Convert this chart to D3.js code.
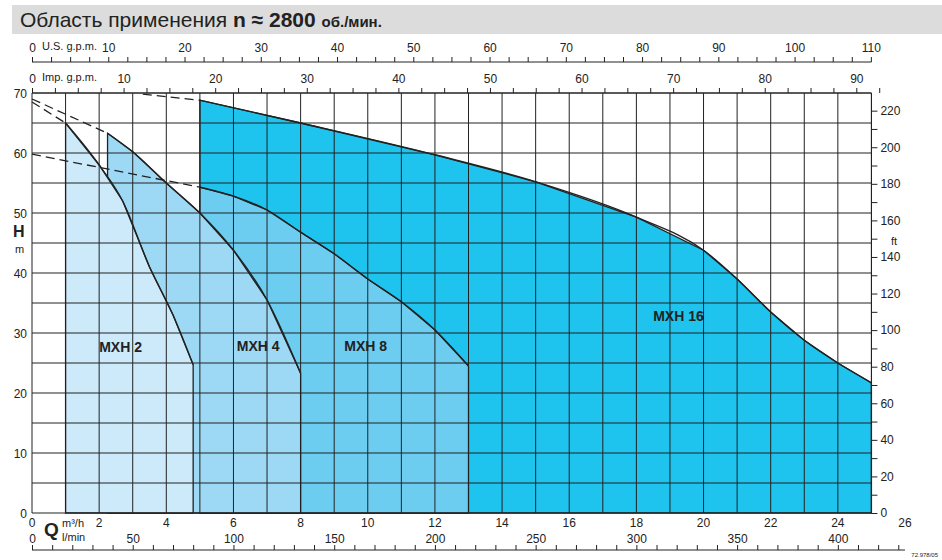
<!DOCTYPE html>
<html><head><meta charset="utf-8">
<script src="https://cdn.jsdelivr.net/npm/d3@7"></script>
<style>body{margin:0;background:#fff}text{font-family:Arial,"Liberation Sans",sans-serif;fill:#222}</style>
</head><body><svg id="c" width="942" height="560"></svg>
<script>
// Q in m3/h, H in m
var mxh2 = [[1,65],[2,58],[2.7,52],[3.5,41],[4.2,33],[4.8,24.7]];
var mxh4 = [[2.25,63.3],[3,60.2],[4,55],[5,50],[6,43.8],[7,35.5],[8,23.3]];
var mxh8 = [[5,54.3],[6,52.8],[7,50.5],[8,46.8],[9,43.2],[10,39],[11,35.2],[12,30.5],[13,24.5]];
var mxh16 = [[5,68.8],[8,65],[12,59.7],[15,55.2],[18,49.3],[20,43.8],[21,39],[22,33.5],[23,28.8],[24,25],[25,21.7]];
var dash2 = [[0,68.5],[1,65]];
var dash4 = [[0,69],[2.25,63.3]];
var dash8 = [[0,59.8],[5,54.3]];
var dash16 = [[3.3,69.8],[5,68.8]];
var series = [
  {name:"MXH 16", pts:mxh16, dash:dash16, color:"#1ec3ee", lx:18.5, ly:32},
  {name:"MXH 8", pts:mxh8, dash:dash8, color:"#6ccdf1", lx:9.3, ly:27},
  {name:"MXH 4", pts:mxh4, dash:dash4, color:"#9dd9f5", lx:6.1, ly:27},
  {name:"MXH 2", pts:mxh2, dash:dash2, color:"#cdeafa", lx:2, ly:26.8}
];
var hTicks = d3.range(0,71,10);
var ftTicks = d3.range(0,221,20);

var svg = d3.select("#c");
var x = d3.scaleLinear().domain([0,26]).range([32,905]);
var y = d3.scaleLinear().domain([0,70]).range([513,93]);
var yft = d3.scaleLinear().domain([0,70/0.3048]).range([513,93]);
var xus = d3.scaleLinear().domain([0,26*4.403]).range([32,905]);
var ximp = d3.scaleLinear().domain([0,26*3.666]).range([32,905]);
var xl = d3.scaleLinear().domain([0,26*1000/60]).range([32,905]);
var R = x(25);

// title
svg.append("rect").attr("x",12).attr("y",5).attr("width",930).attr("height",29).attr("fill","#dcdcdc");
var t = svg.append("text").attr("x",20).attr("y",27).attr("font-size",21);
t.append("tspan").text("Область применения  ");
t.append("tspan").attr("font-weight","bold").text("n ≈ 2800 ");
t.append("tspan").attr("font-weight","bold").attr("font-size",15).text("об./мин.");

// fills
series.forEach(function(s){
  var p = s.pts, q0 = p[0][0], q1 = p[p.length-1][0];
  var poly = [[q0,0]].concat(p).concat([[q1,0]]);
  svg.append("path").attr("d", d3.line().x(d=>x(d[0])).y(d=>y(d[1]))(poly) + "Z")
    .attr("fill", s.color).attr("stroke","#222").attr("stroke-width",1.3);
});
// curves smooth
series.forEach(function(s){
  svg.append("path").attr("d", d3.line().curve(d3.curveMonotoneX).x(d=>x(d[0])).y(d=>y(d[1]))(s.pts))
    .attr("fill","none").attr("stroke","#222").attr("stroke-width",1.4);
  svg.append("path").attr("d", d3.line().x(d=>x(d[0])).y(d=>y(d[1]))(s.dash))
    .attr("fill","none").attr("stroke","#222").attr("stroke-width",1.3).attr("stroke-dasharray","9,5");
});

// grid
var g = svg.append("g").attr("stroke","#222").attr("stroke-width",1);
d3.range(0,26).forEach(function(q){ g.append("line").attr("x1",x(q)).attr("x2",x(q)).attr("y1",y(0)).attr("y2",y(70)); });
d3.range(0,71,5).forEach(function(h){ g.append("line").attr("x1",x(0)).attr("x2",R).attr("y1",y(h)).attr("y2",y(h)); });
g.append("line").attr("x1",R).attr("x2",R).attr("y1",y(0)).attr("y2",y(70));

// labels
series.forEach(function(s){
  svg.append("text").attr("x",x(s.lx)).attr("y",y(s.ly)).attr("font-size",14).attr("font-weight","bold").text(s.name);
});

// left axis
hTicks.forEach(function(h){
  svg.append("text").attr("x",27).attr("y",y(h)+5).attr("text-anchor","end").attr("font-size",12).text(h);
});
svg.append("text").attr("x",13).attr("y",237).attr("font-size",16).attr("font-weight","bold").text("H");
svg.append("text").attr("x",15).attr("y",253).attr("font-size",11).text("m");

// right axis (ft)
svg.append("g").attr("transform","translate("+R+",0)")
  .call(d3.axisRight(yft).tickValues(d3.range(0,221,10)).tickSize(6).tickFormat(d=>ftTicks.indexOf(d)>=0?d:""))
  .call(a=>{a.select(".domain").remove();a.selectAll("text").attr("font-size",12).attr("fill","#222").attr("font-family","Arial");a.selectAll("line").attr("stroke","#222");});
svg.append("text").attr("x",891).attr("y",245).attr("font-size",11).text("ft");

function topAxis(scale, ypos, maxv, label, step){
  var ga = svg.append("g").attr("transform","translate(0,"+ypos+")")
    .call(d3.axisTop(scale).tickValues(d3.range(0,maxv+0.1,step)).tickSize(5).tickFormat(d=>d%10==0?d:""));
  ga.select(".domain").attr("d","M32,0H"+R).attr("stroke","#222");
  ga.selectAll("line").attr("stroke","#222");
  ga.selectAll("text").attr("font-size",12).attr("fill","#222").attr("font-family","Arial").attr("dy","-2");
  svg.append("text").attr("x",42).attr("y",ypos-12).attr("font-size",11).text(label);
  return ga;
}
topAxis(xus, 62, 110, "U.S. g.p.m.", 2.5);
topAxis(ximp, 93, 92.5, "Imp. g.p.m.", 2.5);

// bottom axes
d3.range(0,27,2).forEach(function(q){
  svg.append("text").attr("x",x(q)).attr("y",527).attr("text-anchor","middle").attr("font-size",12).text(q);
});
var gb = svg.append("g").attr("transform","translate(0,550)")
  .call(d3.axisTop(xl).tickValues(d3.range(0,431,10)).tickSize(5).tickFormat(d=>d%50==0?d:""));
gb.select(".domain").attr("d","M32,0H"+x(26)).attr("stroke","#222");
gb.selectAll("line").attr("stroke","#222");
gb.selectAll("text").attr("font-size",12).attr("fill","#222").attr("font-family","Arial").attr("y",-7);
svg.append("text").attr("x",44).attr("y",536).attr("font-size",19).attr("font-weight","bold").text("Q");
svg.append("text").attr("x",62).attr("y",527).attr("font-size",11).text("m³/h");
svg.append("text").attr("x",62).attr("y",541).attr("font-size",11).text("l/min");
svg.append("text").attr("x",938).attr("y",557).attr("text-anchor","end").attr("font-size",6).text("72.978/05");
</script></body></html>
